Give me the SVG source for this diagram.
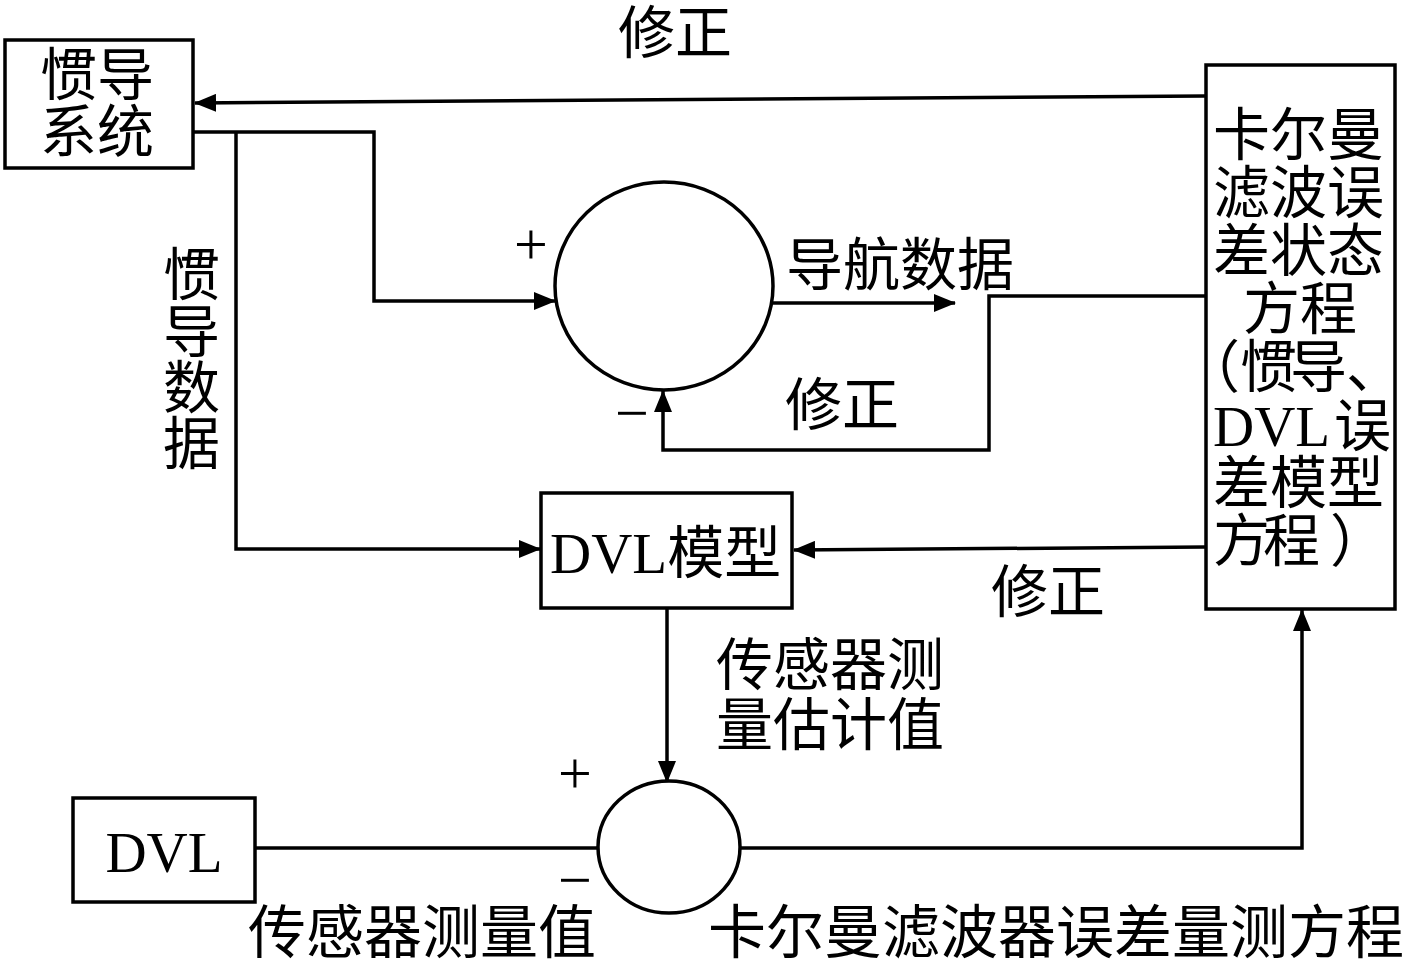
<svg xmlns="http://www.w3.org/2000/svg" width="1417" height="969" viewBox="0 0 1417 969">
<style>
.box{fill:#fff;stroke:#000;stroke-width:3.5}
.ln{fill:none;stroke:#000;stroke-width:3.5}
.t{font-family:"Liberation Serif","Noto Sans CJK SC",serif;font-size:57px;fill:#000}
.s{font-family:"Liberation Serif",serif;font-size:60px;fill:#000;text-anchor:middle}
</style>
<defs>
<marker id="ah" markerUnits="userSpaceOnUse" markerWidth="22" markerHeight="18" refX="21" refY="9" orient="auto">
<path d="M0,0 L22,9 L0,18 z" fill="#000"/>
</marker>
</defs>
<rect width="1417" height="969" fill="#fff"/>
<g id="connectors">
<path class="ln" d="M1205,96 L195,103" marker-end="url(#ah)"/>
<path class="ln" d="M193,132 L374,132 L374,301 L555,301" marker-end="url(#ah)"/>
<path class="ln" d="M236,132 L236,549 L540,549" marker-end="url(#ah)"/>
<path class="ln" d="M772,303 L955,303" marker-end="url(#ah)"/>
<path class="ln" d="M1205,296 L989,296 L989,450 L663,450 L663,391" marker-end="url(#ah)"/>
<path class="ln" d="M1205,547 L794,550" marker-end="url(#ah)"/>
<path class="ln" d="M667,608 L667,782" marker-end="url(#ah)"/>
<path class="ln" d="M255,848 L598,848"/>
<path class="ln" d="M740,848 L1302,848 L1302,610" marker-end="url(#ah)"/>
</g>
<g id="ins">
<rect class="box" x="5" y="40" width="188" height="128"/>
<text class="t" x="40" y="95">惯导</text>
<text class="t" x="40" y="152">系统</text>
</g>
<g id="kalman">
<rect class="box" x="1206" y="65" width="189" height="544"/>
<text class="t" x="1213" y="155">卡尔曼</text>
<text class="t" x="1213" y="213">滤波误</text>
<text class="t" x="1213" y="271">差状态</text>
<text class="t" x="1243" y="329">方程</text>
<text class="t" y="387"><tspan x="1183">（</tspan><tspan x="1240">惯</tspan><tspan x="1290">导</tspan><tspan x="1346">、</tspan></text>
<text class="t" y="446"><tspan x="1213">DVL</tspan><tspan x="1334">误</tspan></text>
<text class="t" x="1213" y="503">差模型</text>
<text class="t" y="561"><tspan x="1213">方</tspan><tspan x="1263">程</tspan><tspan x="1330">）</tspan></text>
</g>
<g id="sum1">
<ellipse class="box" cx="664" cy="286" rx="109" ry="104"/>
</g>
<g id="dvlmodel">
<rect class="box" x="541" y="493" width="251" height="115"/>
<text class="t" x="550" y="573">DVL模型</text>
</g>
<g id="sum2">
<ellipse class="box" cx="669" cy="847" rx="71" ry="66"/>
</g>
<g id="dvl">
<rect class="box" x="73" y="798" width="182" height="104"/>
<text class="t" x="164" y="872" text-anchor="middle">DVL</text>
</g>
<g id="labels">
<text class="t" x="618" y="53">修正</text>
<text class="t" x="163" y="295">惯</text>
<text class="t" x="163" y="352">导</text>
<text class="t" x="163" y="408">数</text>
<text class="t" x="163" y="464">据</text>
<text class="t" x="786" y="285">导航数据</text>
<text class="t" x="785" y="425">修正</text>
<text class="t" x="991" y="612">修正</text>
<text class="t" x="716" y="685">传感器测</text>
<text class="t" x="716" y="745">量估计值</text>
<text class="t" x="248" y="953" style="font-size:58px">传感器测量值</text>
<text class="t" x="708" y="953" style="font-size:58px">卡尔曼滤波器误差量测方程</text>
<text class="s" x="531" y="264">+</text>
<text class="s" x="632" y="433">−</text>
<text class="s" x="575" y="793">+</text>
<text class="s" x="575" y="900">−</text>
</g>
</svg>
